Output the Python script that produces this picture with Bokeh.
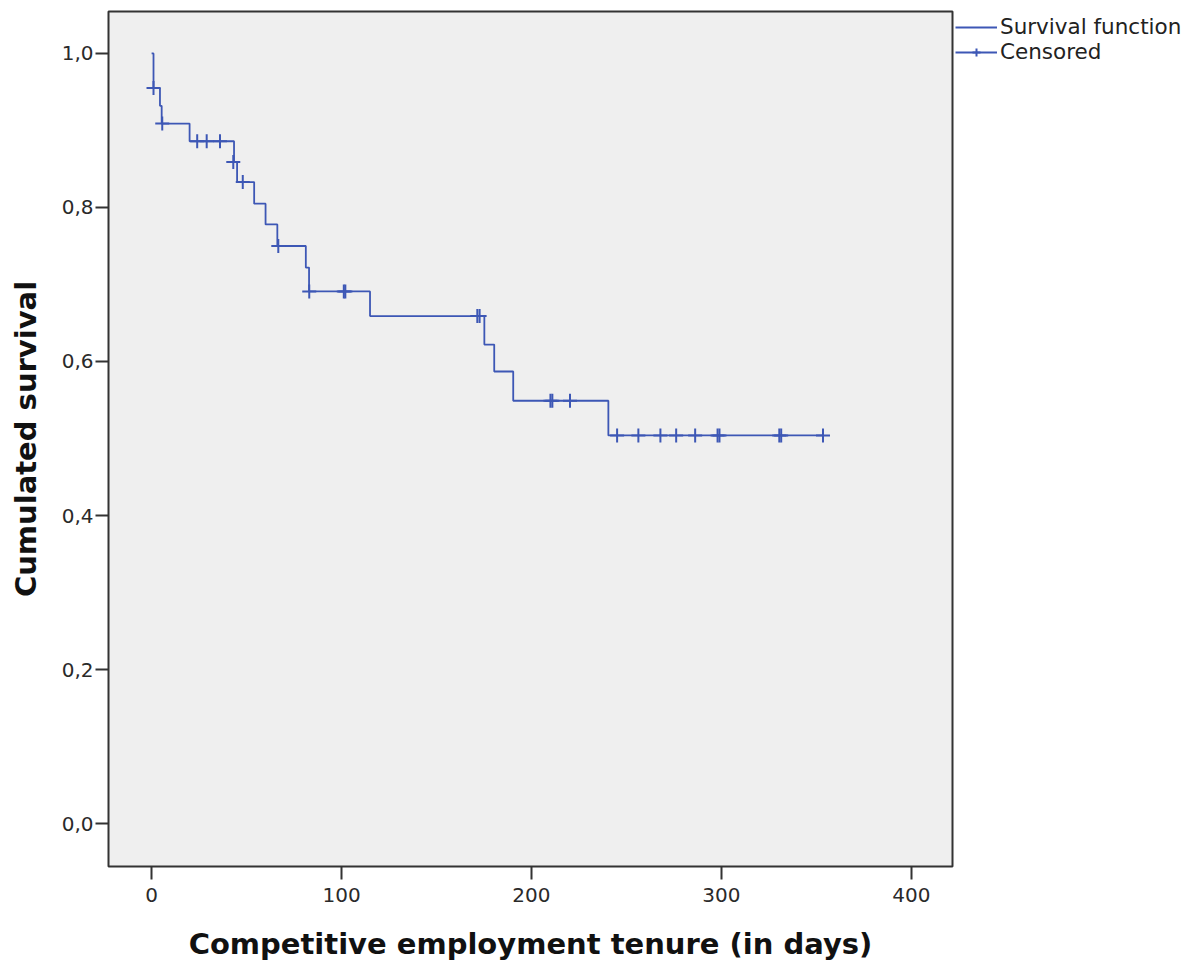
from bokeh.plotting import figure
from bokeh.models import (FixedTicker, CustomJSTickFormatter, Legend, LegendItem,
                          Range1d, ColumnDataSource)
from bokeh.embed import file_html
from bokeh.resources import INLINE

# ---- data ----
event_times = [1.0, 4.4, 5.3, 20.0, 43.4, 45.0, 54.0, 60.0, 66.2, 81.2, 82.9,
               115.0, 175.2, 180.4, 190.4, 240.5]
event_surv = [0.955, 0.932, 0.909, 0.886, 0.859, 0.833, 0.805, 0.778, 0.750,
              0.722, 0.691, 0.659, 0.622, 0.587, 0.549, 0.504]
start_surv = 1.0
end_time = 353.5

censor_times = [1.0, 5.6, 24.0, 29.0, 36.0, 43.0, 48.0, 66.7, 83.0, 101.2, 102.0,
                171.5, 172.7, 210.0, 211.0, 220.3, 245.1, 256.3, 267.9, 276.2,
                286.2, 298.0, 299.0, 330.5, 331.5, 353.5]
censor_surv = [0.955, 0.909, 0.886, 0.886, 0.886, 0.859, 0.833, 0.750, 0.691,
               0.691, 0.691, 0.659, 0.659, 0.549, 0.549, 0.549, 0.504, 0.504,
               0.504, 0.504, 0.504, 0.504, 0.504, 0.504, 0.504, 0.504]

x_ticks = [0, 100, 200, 300, 400]
y_ticks = [0.0, 0.2, 0.4, 0.6, 0.8, 1.0]

x_label = "Competitive employment tenure (in days)"
y_label = "Cumulated survival"
legend_labels = ["Survival function", "Censored"]

LINE = "#3d57b5"
FONT = "DejaVu Sans"

p = figure(width=1192, height=956, frame_width=844, frame_height=855,
           output_backend="svg", toolbar_location=None,
           x_range=Range1d(-22.7, 421.7), y_range=Range1d(-0.0558, 1.0545),
           min_border_left=108, min_border_top=11, min_border_right=240,
           min_border_bottom=90)
p.background_fill_color = "#efefef"
p.border_fill_color = "white"
p.outline_line_color = "#333333"
p.outline_line_width = 2
p.xgrid.visible = False
p.ygrid.visible = False

step_x = [0.0] + event_times + [end_time]
step_y = [start_surv] + event_surv + [event_surv[-1]]
step_r = p.step(x=step_x, y=step_y, mode="after", line_color=LINE, line_width=1.8)

cens_src = ColumnDataSource(dict(x=censor_times, y=censor_surv))
cross_r = p.scatter(x="x", y="y", source=cens_src, marker="cross", size=14,
                    line_color=LINE, line_width=2)

for ax in (p.xaxis[0], p.yaxis[0]):
    ax.axis_line_color = None
    ax.major_tick_in = 0
    ax.major_tick_out = 13
    ax.major_tick_line_color = "#333333"
    ax.major_tick_line_width = 2
    ax.minor_tick_line_color = None
    ax.major_label_text_font = FONT
    ax.major_label_text_font_size = "20px"
    ax.major_label_text_color = "#2a2a2a"
    ax.axis_label_text_font = FONT
    ax.axis_label_text_font_style = "bold"
    ax.axis_label_text_font_size = "29px"
    ax.axis_label_text_color = "#111111"

p.xaxis[0].ticker = FixedTicker(ticks=x_ticks)
p.yaxis[0].ticker = FixedTicker(ticks=y_ticks)
p.xaxis[0].formatter = CustomJSTickFormatter(code="return tick.toFixed(0);")
p.yaxis[0].formatter = CustomJSTickFormatter(code="return tick.toFixed(1).replace('.', ',');")
p.xaxis[0].axis_label = x_label
p.yaxis[0].axis_label = y_label
p.xaxis[0].major_label_standoff = 8
p.xaxis[0].axis_label_standoff = 22
p.yaxis[0].major_label_standoff = 2
p.yaxis[0].axis_label_standoff = 16

legend = Legend(items=[LegendItem(label=legend_labels[0], renderers=[step_r]),
                       LegendItem(label=legend_labels[1], renderers=[step_r, cross_r])],
                location="top_left", orientation="vertical")
legend.label_text_font = FONT
legend.label_text_font_size = "21.5px"
legend.label_text_color = "#222222"
legend.glyph_width = 42
legend.glyph_height = 20
legend.label_standoff = 3
legend.spacing = 0
legend.padding = 2
legend.margin = 3
legend.border_line_color = None
legend.background_fill_alpha = 0
p.add_layout(legend, "right")

open("out.html", "w").write(file_html(p, INLINE))
